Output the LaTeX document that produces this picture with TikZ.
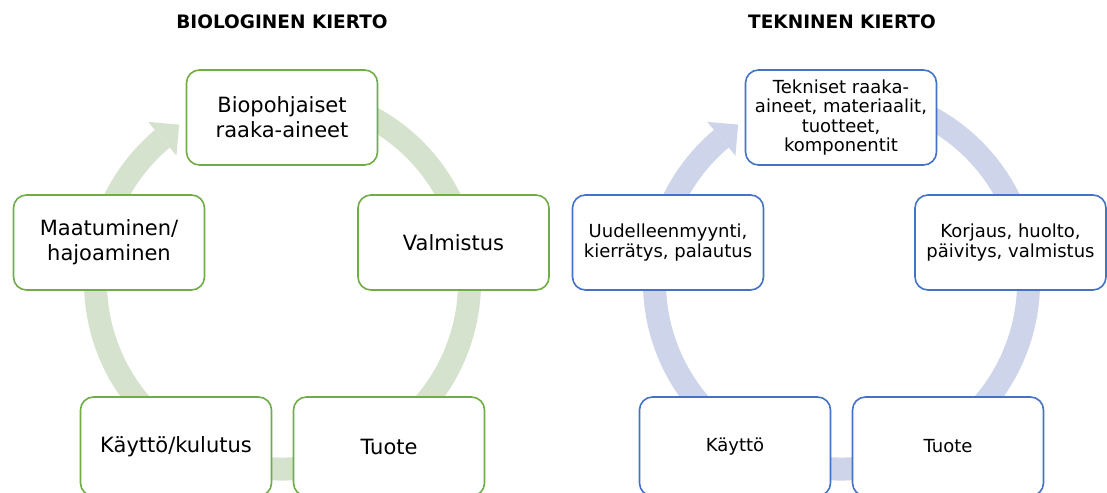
\documentclass[tikz,border=0pt]{standalone}
\usepackage{fontspec}
\setmainfont{DejaVu Sans}
\usetikzlibrary{calc}
\definecolor{bioline}{RGB}{112,173,71}
\definecolor{bioring}{RGB}{213,227,206}
\definecolor{techline}{RGB}{68,114,196}
\definecolor{techring}{RGB}{206,212,234}
\begin{document}
\begin{tikzpicture}[x=1pt,y=1pt,
  stage/.style={draw, line width=1.6pt, fill=white, rounded corners=13pt,
    minimum width=191pt, minimum height=95pt, align=center, inner sep=2pt},
  low/.style={minimum height=99pt},
  biostage/.style={stage, draw=bioline, font=\fontsize{21}{25}\selectfont},
  techstage/.style={stage, draw=techline, font=\fontsize{18}{19.5}\selectfont},
  heading/.style={font=\bfseries\fontsize{18.5}{22}\selectfont},
  ringband/.style={line width=23pt}]
\useasboundingbox (0,0) rectangle (1107,492);

% ---------- biological cycle ----------
\coordinate (bc) at (282.5,210);
\draw[ringband, bioring] ($(bc)+(70:187)$) arc[start angle=70, end angle=-230, radius=187];
\fill[bioring] ($(bc)+(130:165)$) -- ($(bc)+(130:209)$) -- ($(bc)+(123.3:188.3)$) -- cycle;

\node[heading] (biotitle) at (282,470) {BIOLOGINEN KIERTO};
\node[biostage] (bio1) at (282,374.5) {Biopohjaiset\\raaka-aineet};
\node[biostage] (bio2) at (453.5,249.5) {Valmistus};
\node[biostage, low] (bio3) at (389,45.5) {Tuote};
\node[biostage, low] (bio4) at (176,45.5) {Käyttö/kulutus};
\node[biostage] (bio5) at (109,249.5) {Maatuminen/\\hajoaminen};

% ---------- technical cycle ----------
\coordinate (tc) at (841.5,210);
\draw[ringband, techring] ($(tc)+(70:187)$) arc[start angle=70, end angle=-230, radius=187];
\fill[techring] ($(tc)+(130:165)$) -- ($(tc)+(130:209)$) -- ($(tc)+(123.3:188.3)$) -- cycle;

\node[heading] (techtitle) at (842,470) {TEKNINEN KIERTO};
\node[techstage] (tech1) at (841,374.5) {Tekniset raaka-\\aineet, materiaalit,\\tuotteet,\\komponentit};
\node[techstage] (tech2) at (1010.5,249.5) {Korjaus, huolto,\\päivitys, valmistus};
\node[techstage, low] (tech3) at (948,45.5) {Tuote};
\node[techstage, low] (tech4) at (735,45.5) {Käyttö};
\node[techstage] (tech5) at (668,249.5) {Uudelleenmyynti,\\kierrätys, palautus};
\end{tikzpicture}
\end{document}
